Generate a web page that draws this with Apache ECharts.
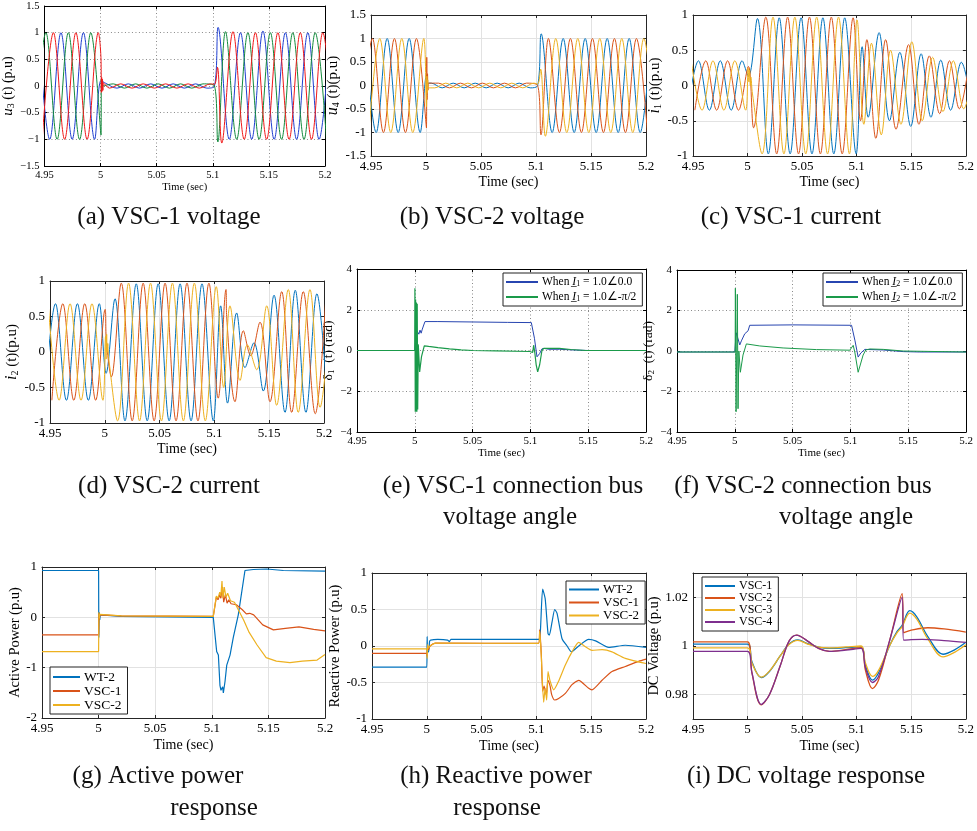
<!DOCTYPE html>
<html><head><meta charset="utf-8">
<script src="https://cdn.jsdelivr.net/npm/echarts@6/dist/echarts.min.js"></script>
<style>html,body{margin:0;padding:0;background:#fff}#c{width:977px;height:831px}</style>
</head><body><div id="c"></div>
<script>
// ---------------- DATA ----------------
const timeTicks = [4.95, 5, 5.05, 5.1, 5.15, 5.2];

// (a) VSC-1 voltage u3
const u3Blue = [[4.9447,1],[4.9547,-1],[4.9647,1],[4.9747,-1],[4.9847,1],[4.9947,-1],[5.0004,0.1],[5.0047,0.05],[5.0147,-0.04],[5.0247,0.04],[5.0347,-0.04],[5.0447,0.04],[5.0547,-0.04],[5.0647,0.04],[5.0747,-0.04],[5.0847,0.04],[5.0947,-0.04],[5.1015,0.0],[5.1047,1.1],[5.1147,-1.0],[5.1247,1],[5.1347,-1],[5.1447,1.03],[5.1547,-1],[5.1647,1],[5.1747,-1],[5.1847,1],[5.1947,-1],[5.2047,1]];
const u3Green = [[4.9413,-1],[4.9513,1],[4.9613,-1],[4.9713,1],[4.9813,-1],[4.9913,1],[5.0004,-0.92],[5.0007,0.12],[5.001,-0.05],[5.0014,0.08],[5.002,0.0],[5.0113,0.04],[5.0213,-0.04],[5.0313,0.04],[5.0413,-0.04],[5.0513,0.04],[5.0613,-0.04],[5.0713,0.04],[5.0813,-0.04],[5.0913,0.04],[5.1015,0.0],[5.1045,-1.05],[5.1113,1.02],[5.1213,-1],[5.1313,1],[5.1413,-1],[5.1513,1],[5.1613,-1],[5.1713,1],[5.1813,-1],[5.1913,1],[5.2013,-1]];
const u3Red = [[4.948,-1],[4.958,1],[4.968,-1],[4.978,1],[4.988,-1],[4.998,1],[5.0004,0.5],[5.0007,-0.12],[5.001,0.16],[5.0013,-0.1],[5.0017,0.13],[5.0021,-0.08],[5.0026,0.06],[5.008,-0.04],[5.018,0.04],[5.028,-0.04],[5.038,0.04],[5.048,-0.04],[5.058,0.04],[5.068,-0.04],[5.078,0.04],[5.088,-0.04],[5.098,0.04],[5.1015,0.03],[5.1042,0.35],[5.108,-1.07],[5.118,1.02],[5.128,-1],[5.138,1],[5.148,-1],[5.158,1],[5.168,-1],[5.178,1],[5.188,-1],[5.198,1],[5.208,-1]];

// (b) VSC-2 voltage u4
const u4Blue = [[4.9447,1],[4.9547,-1],[4.9647,1],[4.9747,-1],[4.9847,1],[4.9947,-1],[5.0004,0.22],[5.0008,0.05],[5.0047,0.05],[5.0147,-0.05],[5.0247,0.05],[5.0347,-0.05],[5.0447,0.05],[5.0547,-0.05],[5.0647,0.05],[5.0747,-0.05],[5.0847,0.05],[5.0947,-0.05],[5.1015,0.0],[5.1047,1.1],[5.1147,-1.0],[5.1247,1],[5.1347,-1],[5.1447,1],[5.1547,-1],[5.1647,1],[5.1747,-1],[5.1847,1],[5.1947,-1],[5.2047,1]];
const u4Orange = [[4.9413,-1],[4.9513,1],[4.9613,-1],[4.9713,1],[4.9813,-1],[4.9913,1],[5.0004,-0.9],[5.0007,0.6],[5.001,-0.3],[5.0014,0.25],[5.0018,-0.1],[5.0023,0.05],[5.0113,0.05],[5.0213,-0.05],[5.0313,0.05],[5.0413,-0.05],[5.0513,0.05],[5.0613,-0.05],[5.0713,0.05],[5.0813,-0.05],[5.0913,0.05],[5.1015,0.0],[5.1045,-1.05],[5.1113,1.0],[5.1213,-1],[5.1313,1],[5.1413,-1],[5.1513,1],[5.1613,-1],[5.1713,1],[5.1813,-1],[5.1913,1],[5.2013,-1]];
const u4Yellow = [[4.948,-1],[4.958,1],[4.968,-1],[4.978,1],[4.988,-1],[4.998,1],[5.0004,-0.45],[5.0008,0.2],[5.0012,-0.15],[5.0016,0.12],[5.0021,-0.05],[5.008,-0.05],[5.018,0.05],[5.028,-0.05],[5.038,0.05],[5.048,-0.05],[5.058,0.05],[5.068,-0.05],[5.078,0.05],[5.088,-0.05],[5.098,0.05],[5.1015,0.03],[5.1042,0.35],[5.1085,-1.08],[5.118,1],[5.128,-1],[5.138,1],[5.148,-1],[5.158,1],[5.168,-1],[5.178,1],[5.188,-1],[5.198,1],[5.208,-1]];

// (c) VSC-1 current i1
const i1Blue = [[4.945,-0.35],[4.955,0.35],[4.965,-0.35],[4.975,0.35],[4.985,-0.35],[4.995,0.35],[5.0008,0.13],[5.009,0.95],[5.019,-0.97],[5.029,0.96],[5.039,-0.97],[5.049,0.96],[5.059,-0.97],[5.069,0.96],[5.079,-0.97],[5.089,0.96],[5.0995,-0.97],[5.105,0.55],[5.1105,-0.45],[5.1205,0.75],[5.130,-0.5],[5.1395,0.47],[5.1495,-0.58],[5.159,0.45],[5.168,-0.45],[5.177,0.36],[5.186,-0.35],[5.1958,0.33],[5.2058,-0.33]];
const i1Red = [[4.9517,-0.35],[4.9617,0.35],[4.9717,-0.35],[4.9817,0.35],[4.9917,-0.35],[5.0008,0.27],[5.0055,-0.6],[5.0167,0.97],[5.0267,-0.97],[5.0367,0.97],[5.0467,-0.97],[5.0567,0.97],[5.0667,-0.97],[5.0767,0.97],[5.0867,-0.97],[5.0967,0.96],[5.1035,-0.5],[5.1093,0.65],[5.1175,-0.75],[5.1265,0.65],[5.136,-0.62],[5.1475,0.58],[5.157,-0.55],[5.1665,0.42],[5.176,-0.4],[5.185,0.35],[5.194,-0.33],[5.203,0.33]];
const i1Yellow = [[4.9483,0.35],[4.9583,-0.35],[4.9683,0.35],[4.9783,-0.35],[4.9883,0.35],[4.9983,-0.35],[5.0005,0.25],[5.0012,0.05],[5.0018,0.22],[5.0025,0.0],[5.003,0.12],[5.0045,-0.12],[5.0133,-0.97],[5.0233,0.97],[5.0333,-0.97],[5.0433,0.97],[5.0533,-0.97],[5.0633,0.97],[5.0733,-0.97],[5.0833,0.97],[5.0933,-0.97],[5.1003,0.93],[5.1065,-0.55],[5.1135,0.6],[5.1225,-0.7],[5.131,0.5],[5.1405,-0.55],[5.1505,0.62],[5.16,-0.5],[5.1695,0.4],[5.179,-0.37],[5.1885,0.35],[5.198,-0.33],[5.208,0.33]];

// (d) VSC-2 current i2
const i2Blue = [[4.945,-0.68],[4.955,0.68],[4.965,-0.68],[4.975,0.68],[4.985,-0.68],[4.995,0.68],[5.0012,-0.3],[5.0093,0.75],[5.0184,-0.97],[5.0287,0.96],[5.0387,-0.97],[5.0487,0.96],[5.0587,-0.97],[5.0687,0.96],[5.0787,-0.97],[5.0887,0.96],[5.099,-0.97],[5.1057,0.65],[5.112,-0.72],[5.1203,0.55],[5.1279,-0.22],[5.1361,0.13],[5.1446,-0.55],[5.1544,0.8],[5.1644,-0.85],[5.1738,0.87],[5.1835,-0.85],[5.1935,0.82],[5.2035,-0.8]];
const i2Red = [[4.9517,-0.68],[4.9617,0.68],[4.9717,-0.68],[4.9817,0.68],[4.9917,-0.68],[5.0003,0.6],[5.0015,0.15],[5.006,-0.35],[5.015,0.97],[5.025,-0.97],[5.035,0.97],[5.045,-0.97],[5.055,0.97],[5.065,-0.97],[5.075,0.97],[5.085,-0.97],[5.095,0.97],[5.1035,-0.65],[5.1106,0.88],[5.1112,0.5],[5.1188,-0.7],[5.1264,0.3],[5.1331,-0.05],[5.1416,0.42],[5.1507,-0.7],[5.1614,0.85],[5.1705,-0.85],[5.1811,0.85],[5.192,-0.87],[5.202,0.85]];
const i2Yellow = [[4.9483,0.68],[4.9583,-0.68],[4.9683,0.68],[4.9783,-0.68],[4.9883,0.68],[4.9983,-0.68],[5.0007,0.22],[5.0012,-0.1],[5.0017,0.25],[5.0022,0.0],[5.0027,0.12],[5.0035,-0.08],[5.0117,-0.97],[5.0217,0.97],[5.0317,-0.97],[5.0417,0.97],[5.0517,-0.97],[5.0617,0.97],[5.0717,-0.97],[5.0817,0.97],[5.0917,-0.97],[5.1017,0.92],[5.1085,-0.5],[5.1142,0.65],[5.1234,-0.4],[5.13,0.1],[5.1386,-0.25],[5.1477,0.65],[5.1568,-0.75],[5.1674,0.88],[5.1765,-0.85],[5.1872,0.88],[5.1964,-0.78],[5.2064,0.7]];

// (e) VSC-1 bus voltage angle
const d1Zero = [[4.95,0],[5.0,0],[5.0015,1.0],[5.0035,0.8],[5.0045,1.0],[5.0055,0.85],[5.0065,1.05],[5.0088,1.42],[5.02,1.42],[5.05,1.4],[5.08,1.38],[5.1008,1.37],[5.1035,0.6],[5.1057,-0.31],[5.108,-0.15],[5.11,0.08],[5.112,0.1],[5.116,0.06],[5.125,0.06],[5.14,0.02],[5.15,0.0],[5.2,0.0]];
const d1Half = [[4.95,0],[4.9999,0],[5.0001,3.05],[5.0004,-3.0],[5.0007,2.5],[5.001,-3.0],[5.0014,2.35],[5.0018,-3.0],[5.0021,2.3],[5.0025,-2.9],[5.003,0.3],[5.0042,-1.05],[5.0058,-0.3],[5.0082,0.23],[5.012,0.2],[5.02,0.14],[5.03,0.08],[5.04,0.03],[5.05,0.0],[5.07,-0.02],[5.0995,-0.05],[5.102,-0.1],[5.1028,0.26],[5.1038,-0.1],[5.105,-0.7],[5.1063,-1.05],[5.108,-0.7],[5.11,0.0],[5.1115,0.1],[5.125,0.1],[5.135,0.05],[5.148,0.0],[5.2,0.0]];

// (f) VSC-2 bus voltage angle
const d2Zero = [[4.95,-0.05],[5.0,-0.05],[5.0012,0.9],[5.0028,0.6],[5.0043,0.3],[5.0057,0.5],[5.0086,0.85],[5.0115,1.0],[5.0129,1.27],[5.0144,1.3],[5.05,1.29],[5.101,1.27],[5.104,0.5],[5.1067,-0.3],[5.109,-0.1],[5.1125,0.08],[5.1139,0.1],[5.1284,0.05],[5.1457,-0.03],[5.16,-0.05],[5.2,-0.05]];
const d2Half = [[4.95,-0.05],[5.0003,-0.05],[5.0005,3.1],[5.0011,-3.0],[5.0022,2.8],[5.0028,-2.85],[5.0035,0.0],[5.0048,-1.05],[5.0071,-0.2],[5.01,0.35],[5.0216,0.25],[5.0418,0.15],[5.0706,0.07],[5.0995,0.04],[5.1024,0.28],[5.1038,-0.05],[5.1067,-1.05],[5.111,-0.2],[5.1133,0.05],[5.1168,0.1],[5.1284,0.08],[5.1457,0.0],[5.2,-0.05]];

// (g) Active power
const pWT2 = [[4.95,0.93],[5.0,0.93],[5.0002,-0.4],[5.0006,0.1],[5.001,-0.05],[5.0015,0.05],[5.003,0.02],[5.02,0.02],[5.1013,0.0],[5.1043,-0.68],[5.1058,-0.75],[5.1072,-1.35],[5.1081,-1.45],[5.1096,-1.38],[5.1102,-1.5],[5.1117,-1.27],[5.1132,-0.95],[5.1161,-0.75],[5.119,-0.4],[5.1234,0.05],[5.1293,0.93],[5.1367,0.95],[5.1485,0.96],[5.1632,0.93],[5.2,0.92]];
const pVSC1 = [[4.95,-0.35],[5.0,-0.35],[5.0003,0.08],[5.0006,-0.05],[5.001,0.05],[5.002,0.03],[5.02,0.03],[5.1013,0.02],[5.104,0.4],[5.1055,0.35],[5.107,0.45],[5.108,0.38],[5.1095,0.6],[5.1105,0.3],[5.112,0.45],[5.1135,0.28],[5.115,0.35],[5.117,0.27],[5.1217,0.25],[5.127,0.15],[5.1305,0.07],[5.1335,0.08],[5.137,0.05],[5.145,-0.15],[5.1544,-0.25],[5.165,-0.22],[5.177,-0.19],[5.19,-0.24],[5.2,-0.27]];
const pVSC2 = [[4.95,-0.68],[5.0,-0.68],[5.0003,0.1],[5.0006,-0.02],[5.001,0.06],[5.002,0.03],[5.02,0.03],[5.1013,0.02],[5.104,0.42],[5.1055,0.38],[5.107,0.5],[5.108,0.42],[5.109,0.72],[5.1098,0.38],[5.111,0.6],[5.1125,0.4],[5.114,0.48],[5.1165,0.33],[5.12,0.3],[5.128,-0.05],[5.133,-0.3],[5.14,-0.55],[5.148,-0.8],[5.157,-0.87],[5.169,-0.9],[5.18,-0.87],[5.193,-0.85],[5.2,-0.74]];

// (h) Reactive power
const qWT2 = [[4.95,-0.29],[5.0,-0.29],[5.0003,0.13],[5.0008,-0.08],[5.0017,-0.08],[5.0025,0.06],[5.0035,0.08],[5.01,0.09],[5.019,0.08],[5.0205,0.06],[5.022,0.09],[5.05,0.09],[5.102,0.09],[5.1035,0.17],[5.1057,0.78],[5.108,0.65],[5.1106,0.17],[5.1118,0.15],[5.1143,0.33],[5.1167,0.5],[5.1188,0.45],[5.1234,0.1],[5.128,0.0],[5.1319,-0.08],[5.1386,0.0],[5.1477,0.09],[5.154,0.07],[5.166,-0.02],[5.1811,0.01],[5.2,-0.02]];
const qVSC1 = [[4.95,-0.1],[5.0,-0.1],[5.0003,-0.14],[5.0008,0.0],[5.0015,-0.05],[5.003,0.0],[5.0078,0.04],[5.102,0.035],[5.103,0.22],[5.1045,-0.12],[5.1057,-0.62],[5.107,-0.55],[5.109,-0.67],[5.1106,-0.47],[5.1125,-0.55],[5.114,-0.67],[5.1167,-0.74],[5.1203,-0.72],[5.1264,-0.65],[5.1325,-0.53],[5.1386,-0.47],[5.1477,-0.58],[5.1507,-0.6],[5.1599,-0.47],[5.169,-0.35],[5.1811,-0.28],[5.1933,-0.21],[5.2,-0.18]];
const qVSC2 = [[4.95,-0.04],[5.0,-0.04],[5.0003,-0.17],[5.0008,0.02],[5.0015,-0.03],[5.003,0.0],[5.0078,0.04],[5.102,0.035],[5.103,0.2],[5.1045,-0.15],[5.1066,-0.77],[5.108,-0.58],[5.1094,-0.74],[5.1106,-0.35],[5.1125,-0.48],[5.1158,-0.6],[5.12,-0.49],[5.1264,-0.26],[5.1325,-0.08],[5.1386,0.05],[5.1447,-0.01],[5.1507,-0.06],[5.16,-0.05],[5.169,-0.08],[5.1811,-0.17],[5.2,-0.24]];

// (i) DC voltage
const dcVSC1 = [[4.95,1.0008],[5.0,1.0008],[5.004,0.9935],[5.0125,0.987],[5.02,0.9895],[5.03,0.996],[5.038,1.0008],[5.046,1.0025],[5.055,1.001],[5.065,0.9995],[5.075,0.999],[5.09,0.9993],[5.104,0.9996],[5.108,0.992],[5.1144,0.986],[5.12,0.989],[5.13,1.0],[5.137,1.006],[5.1416,1.0085],[5.1486,1.0145],[5.155,1.012],[5.165,1.004],[5.1791,0.9966],[5.19,0.9985],[5.2,1.0015]];
const dcVSC2 = [[4.95,1.0017],[5.0,1.0017],[5.004,0.989],[5.0125,0.9758],[5.02,0.98],[5.03,0.992],[5.038,1.002],[5.045,1.0045],[5.055,1.002],[5.065,0.999],[5.075,0.9978],[5.09,0.9985],[5.104,0.9993],[5.108,0.99],[5.1144,0.9825],[5.12,0.986],[5.13,1.002],[5.1416,1.0215],[5.143,1.0055],[5.15,1.0065],[5.165,1.0075],[5.18,1.007],[5.2,1.0057]];
const dcVSC3 = [[4.95,0.9992],[5.0,0.9992],[5.004,0.993],[5.0125,0.9872],[5.02,0.9897],[5.03,0.996],[5.038,1.0006],[5.046,1.0023],[5.055,1.0008],[5.065,0.9995],[5.075,0.9992],[5.09,0.9996],[5.104,1.0],[5.108,0.993],[5.1144,0.9875],[5.12,0.99],[5.13,1.0],[5.137,1.0055],[5.1416,1.008],[5.1486,1.0135],[5.155,1.011],[5.165,1.003],[5.1791,0.9955],[5.19,0.9975],[5.2,1.0005]];
const dcVSC4 = [[4.95,0.9978],[5.0,0.9978],[5.004,0.989],[5.0125,0.976],[5.02,0.98],[5.03,0.992],[5.038,1.002],[5.045,1.0045],[5.055,1.002],[5.065,0.999],[5.075,0.9978],[5.09,0.9983],[5.104,0.999],[5.108,0.991],[5.1144,0.985],[5.12,0.9875],[5.13,1.002],[5.1416,1.02],[5.143,1.0024],[5.15,1.0026],[5.16,1.0027],[5.18,1.0022],[5.2,1.0015]];

// ---------------- STYLE / LAYOUT ----------------
const SERIF = 'Liberation Serif';
const C = {mb:'#0072BD', mo:'#D95319', my:'#EDB120', mp:'#7E2F8E', ob:'#1f3fd0', og:'#138a3c', or:'#f01818', eb:'#2745b0', eg:'#1a9a4a'};

const panels = [
  {l:40, t:6, w:285, h:160, ymin:-1.5, ymax:1.5, yint:0.5, dot:true, minus:true, tfs:10.5, xfs:10.5, xg:13, yfs:14, yg:19,
   yname:'{i|u}{s|3} (t) (p.u)'},
  {l:371, t:15, w:275, h:141, ymin:-1.5, ymax:1.5, yint:0.5, dot:false, minus:false, tfs:13, xfs:14, xg:19, yfs:15, yg:24,
   yname:'{i|u}{s|4} (t)(p.u)'},
  {l:693, t:15, w:273, h:141, ymin:-1, ymax:1, yint:0.5, dot:false, minus:false, tfs:13, xfs:14, xg:19, yfs:15, yg:28,
   yname:'{i|i}{s|1} (t)(p.u)'},
  {l:50, t:281, w:274, h:142, ymin:-1, ymax:1, yint:0.5, dot:false, minus:false, tfs:13, xfs:14, xg:19, yfs:15, yg:23,
   yname:'{i|i}{s|2} (t)(p.u)'},
  {l:357, t:269, w:289, h:163, ymin:-4, ymax:4, yint:2, dot:true, minus:true, tfs:11, xfs:11, xg:13, yfs:13.5, yg:14,
   yname:'δ{s|1}  (t) (rad)'},
  {l:677, t:270, w:289, h:162, ymin:-4, ymax:4, yint:2, dot:true, minus:true, tfs:11, xfs:11, xg:13, yfs:13.5, yg:14,
   yname:'δ{s|2}  (t) (rad)'},
  {l:42, t:567, w:283, h:151, ymin:-2, ymax:1, yint:1, dot:false, minus:false, tfs:13, xfs:14, xg:20, yfs:14.5, yg:19,
   yname:'Active Power (p.u)'},
  {l:372, t:573, w:274, h:146, ymin:-1, ymax:1, yint:0.5, dot:false, minus:false, tfs:13, xfs:14, xg:20, yfs:14.5, yg:26,
   yname:'Reactive Power (p.u)'},
  {l:693, t:573, w:273, h:146, ymin:0.97, ymax:1.03, custom:[0.98,1,1.02], dot:false, minus:false, tfs:13, xfs:14, xg:20, yfs:14.5, yg:29,
   yname:'DC Voltage (p.u)'}
];

const grids = [], xAxes = [], yAxes = [], series = [];
function fmtNum(v, minus) {
  let s = String(+(+v).toFixed(3));
  return minus ? s.replace('-', '\u2212') : s;
}
panels.forEach((p, gi) => {
  grids.push({left:p.l, top:p.t, width:p.w, height:p.h, show:false});
  const split = p.dot ? {color:'#8a8a8a', type:[1,2.5], width:1} : {color:'#e2e2e2', width:1};
  const axisCol = p.dot ? '#000' : '#262626';
  const tick = {inside:true, length:3, lineStyle:{color:axisCol, width:1}};
  xAxes.push({type:'value', gridIndex:gi, min:timeTicks[0], max:timeTicks[timeTicks.length-1], interval:0.05, position:'bottom',
    axisLine:{onZero:false, lineStyle:{color:axisCol, width:1}}, axisTick:tick,
    axisLabel:{fontFamily:SERIF, fontSize:p.tfs, color:'#000', margin:4, showMinLabel:true, showMaxLabel:true, formatter:v=>fmtNum(v,false)},
    splitLine:{show:true, lineStyle:split},
    name:'Time (sec)', nameLocation:'middle', nameGap:p.xg, nameTextStyle:{fontFamily:SERIF, fontSize:p.xfs, color:'#000'}});
  xAxes.push({type:'value', gridIndex:gi, min:timeTicks[0], max:timeTicks[timeTicks.length-1], interval:0.05, position:'top',
    axisLine:{onZero:false, lineStyle:{color:axisCol, width:1}}, axisTick:tick, axisLabel:{show:false}, splitLine:{show:false}});
  const yBase = {type:'value', gridIndex:gi, min:p.ymin, max:p.ymax};
  if (p.custom) {
    yBase.axisTick = Object.assign({customValues:p.custom}, tick);
  } else {
    yBase.interval = p.yint;
    yBase.axisTick = tick;
  }
  const yl = Object.assign({}, yBase, {position:'left',
    axisLine:{onZero:false, lineStyle:{color:axisCol, width:1}},
    axisLabel:Object.assign({fontFamily:SERIF, fontSize:p.tfs, color:'#000', margin:5, showMinLabel:true, showMaxLabel:true, formatter:v=>fmtNum(v,p.minus)}, p.custom?{customValues:p.custom}:{}),
    splitLine:{show:true, lineStyle:split},
    name:p.yname, nameLocation:'middle', nameRotate:90, nameGap:p.yg,
    nameTextStyle:{fontFamily:SERIF, fontSize:p.yfs, color:'#000',
      rich:{i:{fontFamily:SERIF, fontStyle:'italic', fontSize:p.yfs+1, color:'#000'},
            s:{fontFamily:SERIF, fontSize:Math.round(p.yfs*0.68), color:'#000', verticalAlign:'bottom', padding:[Math.round(p.yfs*0.45),0,0,0]}}}});
  yAxes.push(yl);
  const yr = Object.assign({}, yBase, {position:'right', axisLine:{onZero:false, lineStyle:{color:axisCol, width:1}}, axisLabel:{show:false}, splitLine:{show:false}});
  yAxes.push(yr);
});

function addLine(gi, name, data, color, smooth, width) {
  series.push({type:'line', name:name, xAxisIndex:gi*2, yAxisIndex:gi*2, data:data, symbol:'none', showSymbol:false,
    smooth:smooth, lineStyle:{color:color, width:width||1}, itemStyle:{color:color}, animation:false, clip:true});
}
const S = 0.36;
addLine(0,'a-blue',u3Blue,C.ob,S); addLine(0,'a-green',u3Green,C.og,S); addLine(0,'a-red',u3Red,C.or,S);
addLine(1,'b-blue',u4Blue,C.mb,S); addLine(1,'b-orange',u4Orange,C.mo,S); addLine(1,'b-yellow',u4Yellow,C.my,S);
addLine(2,'c-blue',i1Blue,C.mb,S); addLine(2,'c-red',i1Red,C.mo,S); addLine(2,'c-yellow',i1Yellow,C.my,S);
addLine(3,'d-blue',i2Blue,C.mb,S); addLine(3,'d-red',i2Red,C.mo,S); addLine(3,'d-yellow',i2Yellow,C.my,S);
addLine(4,'e1',d1Zero,C.eb,false); addLine(4,'e2',d1Half,C.eg,false,1.2);
addLine(5,'f1',d2Zero,C.eb,false); addLine(5,'f2',d2Half,C.eg,false);
addLine(6,'g1',pWT2,C.mb,false,1.2); addLine(6,'g2',pVSC1,C.mo,false,1.2); addLine(6,'g3',pVSC2,C.my,false,1.2);
addLine(7,'h1',qWT2,C.mb,0.2,1.2); addLine(7,'h2',qVSC1,C.mo,0.2,1.2); addLine(7,'h3',qVSC2,C.my,0.2,1.2);
addLine(8,'i1',dcVSC1,C.mb,0.35,1.3); addLine(8,'i2',dcVSC2,C.mo,0.35,1.3); addLine(8,'i3',dcVSC3,C.my,0.35,1.3); addLine(8,'i4',dcVSC4,C.mp,0.35,1.3);

const legendLabels = {
  e1:'When {u|I\u0332}{s|1} = 1.0\u22200.0', e2:'When {u|I\u0332}{s|1} = 1.0\u2220-\u03c0/2',
  f1:'When {u|I\u0332}{s|2} = 1.0\u22200.0', f2:'When {u|I\u0332}{s|2} = 1.0\u2220-\u03c0/2',
  g1:'WT-2', g2:'VSC-1', g3:'VSC-2', h1:'WT-2', h2:'VSC-1', h3:'VSC-2',
  i1:'VSC-1', i2:'VSC-2', i3:'VSC-3', i4:'VSC-4'
};
function mkLegend(names, left, top, fs, iw, gap, pad) {
  return {show:true, data:names, left:left, top:top, orient:'vertical', itemWidth:iw, itemHeight:10, itemGap:gap,
    padding:pad, borderColor:'#222', borderWidth:1, backgroundColor:'#fff', selectedMode:false,
    itemStyle:{opacity:0, borderWidth:0},
    formatter:n=>legendLabels[n],
    textStyle:{fontFamily:SERIF, fontSize:fs, color:'#000', padding:[0,0,0,-1],
      rich:{u:{fontFamily:SERIF, fontStyle:'italic', fontSize:fs, color:'#000'}, s:{fontFamily:SERIF, fontSize:Math.round(fs*0.7), verticalAlign:'bottom', color:'#000'}}}};
}
const legends = [
  mkLegend(['e1','e2'], 503, 273, 11.5, 32, 3, [3,6,3,2]),
  mkLegend(['f1','f2'], 823, 273, 11.5, 32, 3, [3,6,3,2]),
  mkLegend(['g1','g2','g3'], 50, 667, 13.5, 27, 0, [3,6,2,2]),
  mkLegend(['h1','h2','h3'], 566, 581, 13, 30, 0, [2,6,2,2]),
  mkLegend(['i1','i2','i3','i4'], 702, 577, 12, 30, 0, [3,6,3,2])
];

const captions = [
  {t:'(a) VSC-1 voltage', x:169, y:217}, {t:'(b) VSC-2 voltage', x:492, y:217}, {t:'(c) VSC-1 current', x:791, y:217},
  {t:'(d) VSC-2 current', x:169, y:486}, {t:'(e) VSC-1 connection bus', x:513, y:486}, {t:'voltage angle', x:510, y:517},
  {t:'(f) VSC-2 connection bus', x:803, y:486}, {t:'voltage angle', x:846, y:517},
  {t:'(g) Active power', x:158, y:776}, {t:'response', x:214, y:808},
  {t:'(h) Reactive power', x:496, y:776}, {t:'response', x:497, y:808},
  {t:'(i) DC voltage response', x:806, y:776}
];
const graphic = captions.map(c => ({type:'text', x:c.x, y:c.y, silent:true,
  style:{text:c.t, fontFamily:SERIF, fontSize:25, fill:'#111', align:'center', verticalAlign:'middle', textAlign:'center', textVerticalAlign:'middle'}}));

const chart = echarts.init(document.getElementById('c'), null, {renderer:'canvas'});
chart.setOption({animation:false, backgroundColor:'#fff', grid:grids, xAxis:xAxes, yAxis:yAxes, series:series, legend:legends, graphic:graphic});
</script></body></html>
